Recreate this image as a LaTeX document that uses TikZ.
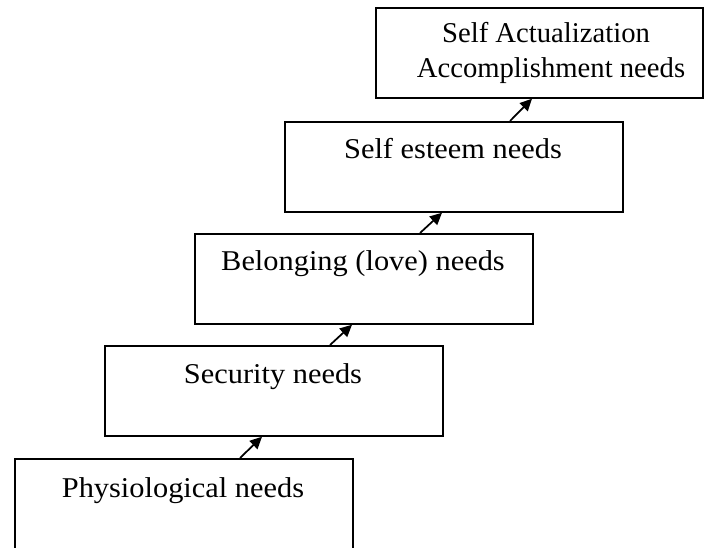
\documentclass[tikz,border=0pt]{standalone}
\usepackage{fontspec}
\setmainfont{Liberation Serif}[FakeStretch=1.06]
\newfontfamily\topserif{Liberation Serif}
\usetikzlibrary{arrows.meta}
\begin{document}
\begin{tikzpicture}[x=0.75pt, y=-0.75pt,
  needbox/.style={draw, line width=1.3pt, rectangle, inner sep=0pt,
    minimum width=253.5pt, minimum height=67.5pt, anchor=north west},
  needtext/.style={anchor=base, inner sep=0pt, font=\fontsize{21.5}{26}\selectfont},
  toptext/.style={anchor=base, inner sep=0pt, font=\topserif\fontsize{21.5}{26}\selectfont},
  stepup/.style={-{Triangle[length=9pt,width=8.5pt]}, line width=1.3pt}]
  \useasboundingbox (0,0) rectangle (705,548);

  % the five steps, lowest first
  \node[needbox] (b1) at (14,458) {};
  \node[needbox] (b2) at (104,345) {};
  \node[needbox] (b3) at (194,233) {};
  \node[needbox] (b4) at (284,121) {};
  \node[needbox, minimum width=245.25pt] (b5) at (375,7) {};

  % labels
  \node[needtext] (t1) at (183,497) {Physiological needs};
  \node[needtext] (t2) at (273,383) {Security needs};
  \node[needtext] (t3) at (363,271) {Belonging (love) needs};
  \node[needtext] (t4) at (453,159) {Self esteem needs};
  \node[toptext] (t5a) at (546,43) {Self Actualization};
  \node[toptext] (t5b) at (551,78) {Accomplishment needs};

  % arrows leading up the steps
  \draw[stepup] ([xshift=169.5pt]b1.north west) -- ([xshift=118.5pt]b2.south west);
  \draw[stepup] ([xshift=169.5pt]b2.north west) -- ([xshift=118.5pt]b3.south west);
  \draw[stepup] ([xshift=169.5pt]b3.north west) -- ([xshift=118.5pt]b4.south west);
  \draw[stepup] ([xshift=169.5pt]b4.north west) -- ([xshift=117.75pt]b5.south west);
\end{tikzpicture}
\end{document}
